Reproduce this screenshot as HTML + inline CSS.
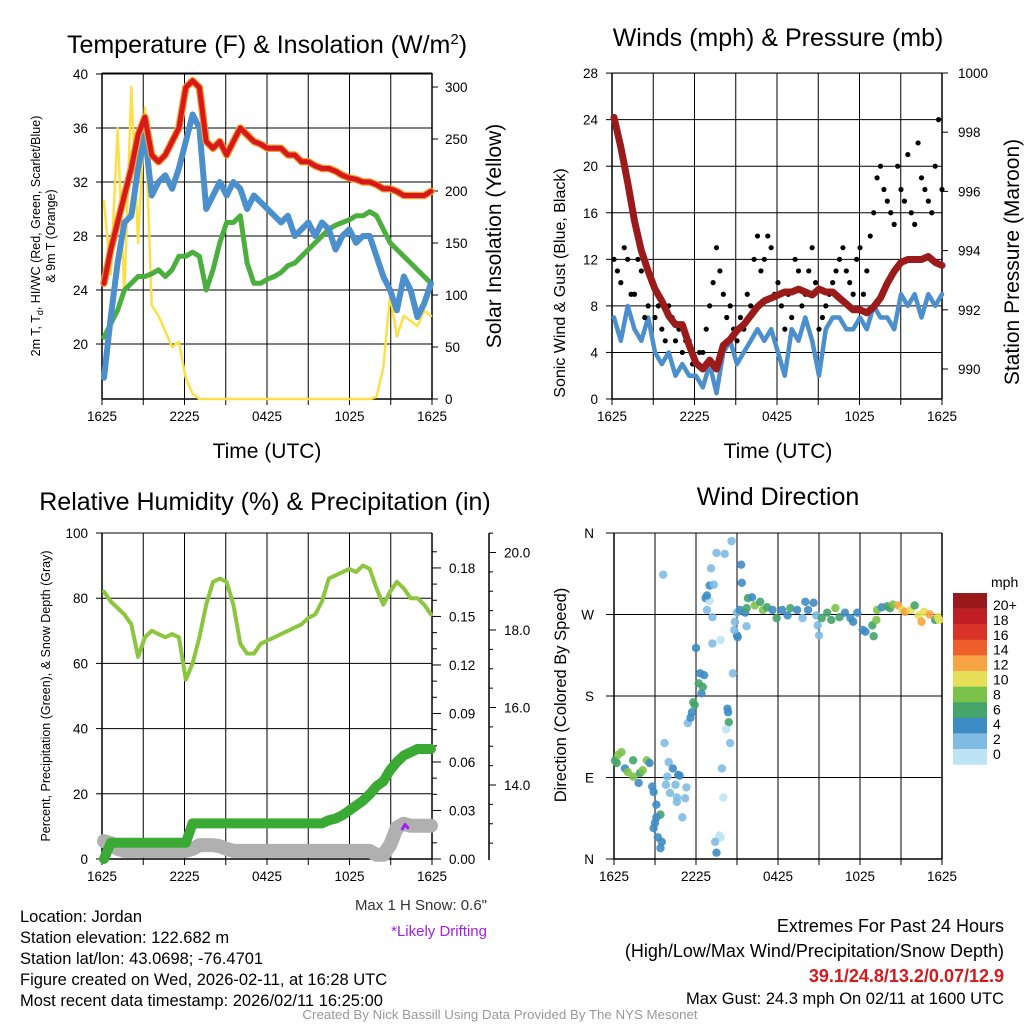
<!DOCTYPE html>
<html><head><meta charset="utf-8"><style>
body{margin:0;background:#fff}
svg text{font-family:"Liberation Sans",sans-serif;fill:#000}
</style></head><body>
<svg id="s" width="1024" height="1024" xmlns="http://www.w3.org/2000/svg">
<g id="g1"></g>
<g id="g2"></g>
<g id="g3"></g>
<g id="g4"></g>
<g id="gt">
<text x="267" y="53" font-size="25" text-anchor="middle">Temperature (F) &amp; Insolation (W/m<tspan dy="-9" font-size="15">2</tspan><tspan dy="9">)</tspan></text>
<text x="778" y="46" font-size="25" text-anchor="middle">Winds (mph) &amp; Pressure (mb)</text>
<text x="265" y="510" font-size="25" text-anchor="middle">Relative Humidity (%) &amp; Precipitation (in)</text>
<text x="778" y="505" font-size="25" text-anchor="middle">Wind Direction</text>
<text x="267" y="458" font-size="21" text-anchor="middle">Time (UTC)</text>
<text x="778" y="458" font-size="21" text-anchor="middle">Time (UTC)</text>
<text transform="translate(40,236) rotate(-90)" font-size="12.5" text-anchor="middle">2m T, T<tspan font-size="9" dy="3">d</tspan><tspan dy="-3">, HI/WC (Red, Green, Scarlet/Blue)</tspan></text>
<text transform="translate(55,236) rotate(-90)" font-size="12.5" text-anchor="middle">&amp; 9m T (Orange)</text>
<text transform="translate(501,236) rotate(-90)" font-size="21" text-anchor="middle">Solar Insolation (Yellow)</text>
<text transform="translate(565,283) rotate(-90)" font-size="16" text-anchor="middle">Sonic Wind &amp; Gust (Blue, Black)</text>
<text transform="translate(1019,262) rotate(-90)" font-size="21" text-anchor="middle">Station Pressure (Maroon)</text>
<text transform="translate(50,696) rotate(-90)" font-size="12.5" text-anchor="middle">Percent, Precipitation (Green), &amp; Snow Depth (Gray)</text>
<text transform="translate(566,695) rotate(-90)" font-size="16.5" text-anchor="middle">Direction (Colored By Speed)</text>
<text x="991" y="587" font-size="14">mph</text>
<text x="487" y="910" font-size="15" text-anchor="end" style="fill:#333">Max 1 H Snow: 0.6"</text>
<text x="487" y="936" font-size="15" text-anchor="end" style="fill:#a020f0">*Likely Drifting</text>
<g font-size="16.5">
<text x="20" y="922">Location: Jordan</text>
<text x="20" y="943">Station elevation: 122.682 m</text>
<text x="20" y="964">Station lat/lon: 43.0698; -76.4701</text>
<text x="20" y="985">Figure created on Wed, 2026-02-11, at 16:28 UTC</text>
<text x="20" y="1006">Most recent data timestamp: 2026/02/11 16:25:00</text>
</g>
<g font-size="18" text-anchor="end">
<text x="1004" y="932">Extremes For Past 24 Hours</text>
<text x="1004" y="957">(High/Low/Max Wind/Precipitation/Snow Depth)</text>
<text x="1004" y="982" font-weight="bold" style="fill:#d7191c">39.1/24.8/13.2/0.07/12.9</text>
<text x="1004" y="1004" font-size="16.5">Max Gust: 24.3 mph On 02/11 at 1600 UTC</text>
</g>
<text x="500" y="1019" font-size="13.3" text-anchor="middle" style="fill:#999">Created By Nick Bassill Using Data Provided By The NYS Mesonet</text>
</g>
</svg>
<script>
// ---------- data ----------
const hours = [];for(let i=0;i<=48;i++)hours.push(i*0.5);
const tempF=[24.5,27,29,31,33,35.5,36.8,34,33.5,34,35,36,39,39.5,39,35,34.5,35,34,35,36,35.5,35,34.8,34.5,34.5,34.5,34,34,33.5,33.5,33.2,33,33,32.8,32.5,32.3,32.2,32,32,31.8,31.5,31.5,31.3,31,31,31,31,31.3];
const hiwc=[17.5,22,26,29,29.5,33,35.5,31,32,32.5,31.5,33,35,37,36,30,31,32,31,32,31.5,30,31,30.5,30,29.5,29,29.5,28,28.5,29,28,29,28.5,27,28,28.5,27.5,28,28,26.5,25,24,22.5,25,24,22,23,24.5];
const dewF=[20.5,21.5,22.5,24,24.5,25,25,25.2,25.5,25,25.5,26.5,26.5,26.8,26.5,24,25.5,27.5,29,29,29.5,26,24.5,24.5,24.8,25,25.3,25.8,26,26.5,27,27.5,28,28.5,28.8,29,29.2,29.5,29.5,29.8,29.5,28.5,27.5,27,26.5,26,25.5,25,24.5];
const solar=[190,120,260,100,300,150,280,90,80,65,50,55,20,5,0,0,0,0,0,0,0,0,0,0,0,0,0,0,0,0,0,0,0,0,0,0,0,0,0,0,2,30,100,60,80,75,70,85,80];
const wind=[7,5,8,6,5,7,4,3,4,2,3,2,2,1,3,0.5,4,5,3,4,5,6,5,6,4,2,6,5,7,5,2,6,7,7,6,6,7,6,8,7,7,6,9,8,9,7,9,8,9];
const gust=[12,10,12,9,11,8,7,6,8,5,4,5,3,4,8,13,9,8,5,6,8,14,12,13,10,6,7,11,9,13,6,8,10,12,11,9,13,11,16,20,17,15,18,21,15,19,17,20,18];
const gust2=[11,13,9,12,7,10,8,5,7,6,5,3,4,6,10,11,7,6,7,9,12,11,14,9,8,9,12,8,11,10,7,9,11,13,10,12,9,14,19,18,16,20,17,16,22,18,16,24];
const pres=[998.5,997.5,996.3,995,994,993.3,992.7,992.3,991.8,991.5,991.5,990.8,990.2,990.0,990.3,990.0,990.8,991.0,991.3,991.5,991.8,992.1,992.3,992.4,992.5,992.6,992.6,992.7,992.6,992.5,992.7,992.6,992.6,992.4,992.2,992.0,992.0,991.9,992.1,992.4,992.9,993.3,993.6,993.7,993.7,993.7,993.8,993.6,993.5];
const rh=[82,79,77,75,72,62,68,70,69,68,69,68,55,60,68,78,85,86,85,78,66,63,63,66,67,68,69,70,71,72,74,75,79,86,87,88,89,88,90,89,83,78,82,85,83,80,80,78,75];
const precip=[0,0.01,0.01,0.01,0.01,0.01,0.01,0.01,0.01,0.01,0.01,0.01,0.01,0.022,0.022,0.022,0.022,0.022,0.022,0.022,0.022,0.022,0.022,0.022,0.022,0.022,0.022,0.022,0.022,0.022,0.022,0.022,0.022,0.024,0.025,0.027,0.03,0.033,0.036,0.04,0.045,0.048,0.055,0.06,0.064,0.066,0.068,0.068,0.068];
const snow=[12.55,12.5,12.35,12.3,12.3,12.3,12.3,12.3,12.3,12.3,12.3,12.3,12.3,12.35,12.45,12.45,12.45,12.42,12.35,12.3,12.3,12.3,12.3,12.3,12.3,12.3,12.3,12.3,12.3,12.3,12.3,12.3,12.3,12.3,12.3,12.3,12.3,12.3,12.3,12.3,12.2,12.2,12.45,12.9,13.0,12.95,12.95,12.95,12.95];
const dirT=[0.07,0.3,0.55,0.2,0.8,1.0,1.4,1.9,2.1,2.4,1.4,2.6,1.8,2.8,2.9,3.1,3.4,3.1,3.0,2.9,3.2,3.5,3.4,3.6,3.7,4.0,4.3,3.9,4.7,4.8,3.8,4.5,4.1,4.6,5.2,5.3,4.6,5.0,5.4,5.6,5.7,5.8,5.9,6.4,6.5,6.2,6.3,6.6,6.0,7.2,7.8,6.8,7.2,6.7,7.0,6.8,7.0,7.3,7.1,7.5,8.1,8.6,8.3,8.35,8.4,8.2,8.5,7.9,8.0,7.7,7.8,7.4,7.5,8.7,9.0,9.05,8.8,8.85,9.0,9.2,9.7,9.6,9.3,9.35,9.8,10.1,9.7,10.3,10.7,10.9,11.2,11.6,11.9,12.3,12.7,12.9,13.4,13.8,14.0,14.2,14.6,14.8,14.9,15.0,15.2,15.6,15.9,16.2,16.5,16.9,17.3,17.5,17.8,18.2,18.4,18.9,19.0,19.2,19.25,19.6,20.0,20.2,20.4,20.8,21.1,21.3,21.7,22.0,22.3,22.5,22.7,23.1,23.5,23.7,23.8];
const dirDeg=[109,115,118,106,100,96,91,95,98,109,109,106,84,80,74,60,49,46,40,34,24,19,12,314,128,107,100,91,93,92,82,82,73,68,67,79,63,46,150,156,162,173,170,183,190,194,205,203,233,238,242,275,267,288,285,291,302,303,321,338,337,351,166,162,151,143,128,100,68,26,24,19,7,205,247,245,253,262,272,275,257,272,325,305,288,289,277,280,284,275,278,275,266,275,269,277,275,266,284,275,283,269,258,247,266,272,264,277,267,272,266,262,272,253,251,258,246,264,275,278,279,277,281,280,275,273,275,280,269,262,273,270,264,267,264];
const dirSpd=[7,9,9,7,5,9,9,7,9,9,7,5,5,5,5,5,7,5,5,5,5,5,5,3,3,3,5,3,5,5,3,3,3,3,3,3,3,3,3,5,5,7,7,5,7,7,5,5,5,3,1,3,3,5,1,5,5,3,3,3,3,3,5,5,7,1,3,3,1,1,1,3,5,3,5,5,3,3,3,5,3,5,5,5,7,5,7,9,7,9,7,5,7,5,5,7,5,3,5,5,5,3,3,3,7,7,7,9,7,5,5,5,5,5,5,7,7,9,9,5,7,7,9,13,11,13,11,7,11,13,11,13,7,11,11];
const cbLabels=["20+","18","16","14","12","10","8","6","4","2","0"];
const cbColors=["#98181b","#bf1e24","#d93328","#ee5f2b","#f6a444","#e6df58","#7bc24a","#45a46a","#3e8cc4","#7fbbe3","#bde4f5"];
const tTicks=["1625","2225","0425","1025","1625"];
// ---------- helpers ----------
const NS="http://www.w3.org/2000/svg";
function mk(tag,at,p){const e=document.createElementNS(NS,tag);for(const k in at)e.setAttribute(k,at[k]);p.appendChild(e);return e;}
const g1=document.getElementById('g1'),g2=document.getElementById('g2'),g3=document.getElementById('g3'),g4=document.getElementById('g4');
function spdColor(v){return cbColors[10-Math.min(10,Math.floor(v/2))];}
function line(p,x1,y1,x2,y2,c,w,name){const e=mk('line',{x1,y1,x2,y2,stroke:c,'stroke-width':w},p);

return e;}
function txt(p,x,y,s,anchor,size,name){const e=mk('text',{x,y,'font-size':size||13,'text-anchor':anchor||'middle'},p);e.textContent=s;

return e;}
function poly(p,xs,ys,xf,yf,c,w,name){const pts=xs.map((x,i)=>xf(x).toFixed(1)+','+yf(ys[i]).toFixed(1)).join(' ');
const e=mk('polyline',{points:pts,fill:'none',stroke:c,'stroke-width':w,'stroke-linejoin':'round','stroke-linecap':'round'},p);

return e;}
function frame(p,x0,y0,x1,y1,nx){
 for(let i=0;i<=nx;i++){const x=x0+(x1-x0)*i/nx;line(p,x,y0,x,y1,'#000',1,'v-gridline');line(p,x,y1,x,y1+6,'#000',1,'x-tick');}
 line(p,x0,y0,x1,y0,'#000',1,'top-frame');line(p,x0,y1,x1,y1,'#000',1.5,'bottom-frame');
 line(p,x0,y0,x0,y1,'#000',1.5,'left-frame');line(p,x1,y0,x1,y1,'#000',1.5,'right-frame');
 tTicks.forEach((t,i)=>txt(p,x0+(x1-x0)*i/4,y1+22,t,'middle',13.5,'x-tick-label'));
}
// ---------- panel 1 ----------
const X1=h=>104+h*327/24, yT=v=>74+(40-v)*13.5, yS=v=>399-v*1.04;
[20,24,28,32,36,40].forEach(v=>{line(g1,102,yT(v),432,yT(v),'#000',1,'y-gridline');line(g1,96,yT(v),102,yT(v),'#000',1,'y-tick');txt(g1,88,yT(v)+5,String(v),'end',13.5,'y-tick-label');});
[0,50,100,150,200,250,300].forEach(v=>{line(g1,432,yS(v),438,yS(v),'#000',1,'y2-tick');txt(g1,445,yS(v)+5,String(v),'start',13.5,'y2-tick-label');});
frame(g1,102,73,432,399,8);
poly(g1,hours,solar,X1,yS,'#fde047',2.5,'solar-line');
poly(g1,hours,dewF,X1,yT,'#4cae3f',5,'dewpoint-line');
poly(g1,hours,hiwc,X1,yT,'#4b8fcc',6,'windchill-line');
poly(g1,hours,tempF,X1,yT,'#f0a030',7.5,'temp-9m-line');
poly(g1,hours,tempF,X1,yT,'#d7191c',5,'temp-2m-line');
// ---------- panel 2 ----------
const X2=h=>614+h*328/24, yW=v=>399-v*11.64, yP=v=>369-(v-990)*29.6;
[0,4,8,12,16,20,24,28].forEach(v=>{line(g2,612,yW(v),942,yW(v),'#000',1,'y-gridline');line(g2,606,yW(v),612,yW(v),'#000',1,'y-tick');txt(g2,598,yW(v)+5,String(v),'end',13.5,'y-tick-label');});
[990,992,994,996,998,1000].forEach(v=>{line(g2,942,yP(v),948,yP(v),'#000',1,'y2-tick');txt(g2,958,yP(v)+5,String(v),'start',13.5,'y2-tick-label');});
frame(g2,612,73,942,399,8);
poly(g2,hours,wind,X2,yW,'#4b8fcc',4.5,'wind-line');
hours.forEach((h,i)=>{const c=mk('circle',{cx:X2(h),cy:yW(gust[i]),r:2.6,fill:'#000'},g2);

});
gust2.forEach((v,i)=>{const c=mk('circle',{cx:X2(i*0.5+0.25),cy:yW(v),r:2.6,fill:'#000'},g2);

});
poly(g2,hours,pres,X2,yP,'#9b1b1b',7,'pressure-line');
// ---------- panel 3 ----------
const yR=v=>859-v*3.26, yPr=v=>859-v*1617, ySn=v=>785-(v-14)*38.75;
[0,20,40,60,80,100].forEach(v=>{line(g3,102,yR(v),432,yR(v),'#000',1,'y-gridline');line(g3,96,yR(v),102,yR(v),'#000',1,'y-tick');txt(g3,88,yR(v)+5,String(v),'end',13.5,'y-tick-label');});
for(let k=0;k<=19;k++){const v=k*0.01;line(g3,432,yPr(v),k%3==0?441:437,yPr(v),'#000',1,'precip-tick');}
['0.00','0.03','0.06','0.09','0.12','0.15','0.18'].forEach(s=>txt(g3,449,yPr(+s)+5,s,'start',13.5,'precip-tick-label'));
line(g3,489,533,489,860,'#000',1.5,'snow-axis');
for(let v=12.5;v<=20.6;v+=0.5){line(g3,489,ySn(v),Number.isInteger(v)&&v%2==0?496:493,ySn(v),'#000',1,'snow-tick');}
['14.0','16.0','18.0','20.0'].forEach(s=>txt(g3,504,ySn(+s)+5,s,'start',13.5,'snow-tick-label'));
frame(g3,102,533,432,859,8);
poly(g3,hours,rh,X1,yR,'#8cc63f',4,'rh-line');
poly(g3,hours,snow,X1,ySn,'#b0b0b0',14,'snow-depth-line');
poly(g3,hours,precip,X1,yPr,'#3aaa35',10,'precip-line');
poly(g3,[21.9,22.1,22.3],[12.87,12.98,12.9],X1,ySn,'#a020f0',3,'drifting-marker');
// ---------- panel 4 ----------
const X4=h=>614+h*328/24, yD=v=>859-v*326/360;
const dl=['N','E','S','W','N'];
[0,90,180,270,360].forEach((v,i)=>{line(g4,612,yD(v),942,yD(v),'#000',1,'y-gridline');line(g4,606,yD(v),612,yD(v),'#000',1,'y-tick');txt(g4,594,yD(v)+5,dl[i],'end',13.5,'y-tick-label');});
frame(g4,614,533,942,859,8);
dirT.forEach((h,i)=>{const c=mk('circle',{cx:X4(h),cy:yD(dirDeg[i]),r:4.2,fill:spdColor(dirSpd[i]),'fill-opacity':0.9},g4);

});
cbColors.forEach((c,i)=>{const r=mk('rect',{x:953,y:593+i*15.6,width:34,height:15.8,fill:c},g4);


txt(g4,993,610+i*14.9,cbLabels[i],'start',14,'colorbar-label');});
</script>
</body></html>
